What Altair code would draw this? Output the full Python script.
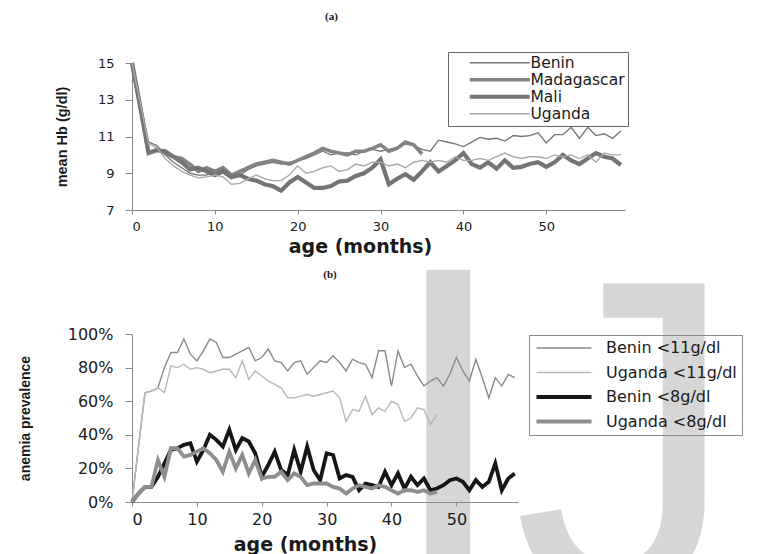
import altair as alt
import pandas as pd

# ---------------- data ----------------
months = list(range(60))

hb_names = ["Benin", "Madagascar", "Mali", "Uganda"]
hb_benin = [15.0, 12.8, 10.7, 10.5, 10.0, 9.6, 9.3, 9.0, 8.9, 8.9,
            9.2, 9.0, 8.7, 8.9, 9.2, 9.4, 9.5, 9.6, 9.5, 9.6,
            9.7, 9.8, 10.0, 10.2, 10.0, 10.1, 10.1, 10.0, 10.2, 10.3,
            10.2, 10.3, 10.4, 10.6, 10.5, 10.3, 10.2, 10.8, 10.7, 10.6,
            10.45, 10.7, 10.95, 10.85, 10.9, 10.75, 11.05, 11.0, 11.05, 11.2,
            10.65, 11.1, 11.1, 11.5, 10.9, 11.5, 11.05, 11.15, 10.9, 11.3]
hb_madagascar = [15.0, 12.6, 10.1, 10.3, 10.1, 9.9, 9.8, 9.5, 9.1, 9.3,
                 9.1, 9.3, 8.9, 9.1, 9.3, 9.5, 9.6, 9.7, 9.6, 9.5,
                 9.7, 9.9, 10.1, 10.35, 10.2, 10.1, 10.0, 10.2, 10.2, 10.35,
                 10.55, 10.2, 10.35, 10.7, 10.55, 10.05]
hb_mali = [15.0, 12.6, 10.1, 10.25, 10.2, 9.9, 9.6, 9.2, 9.3, 9.1,
           8.9, 9.1, 8.8, 8.9, 8.7, 8.6, 8.4, 8.3, 8.05, 8.5,
           8.8, 8.5, 8.2, 8.2, 8.3, 8.55, 8.6, 8.85, 9.0, 9.3,
           9.75, 8.4, 8.7, 8.95, 8.65, 9.1, 9.6, 9.1, 9.4, 9.7,
           10.1, 9.5, 9.3, 9.6, 9.25, 9.7, 9.3, 9.35, 9.5, 9.6,
           9.35, 9.6, 10.0, 9.7, 9.5, 9.8, 10.1, 9.9, 9.8, 9.45]
hb_uganda = [15.0, 12.8, 10.6, 10.4, 9.8, 9.4, 9.1, 8.9, 8.75, 8.8,
             8.9, 8.8, 8.4, 8.45, 8.7, 8.9, 8.7, 8.6, 8.6, 8.9,
             9.4, 9.0, 9.1, 9.3, 9.4, 9.1, 9.2, 9.5, 9.4, 9.6,
             9.6, 9.4, 9.5, 9.3, 9.6, 9.7, 9.6, 9.7, 9.6, 9.9,
             9.7, 9.7, 9.8, 9.7, 9.9, 10.1, 9.9, 9.8, 9.9, 9.9,
             9.8, 10.0, 9.9, 10.0, 9.8, 10.0, 9.6, 10.1, 10.0, 10.0]

prev_names = ["Benin <11g/dl", "Uganda <11g/dl", "Benin <8g/dl", "Uganda <8g/dl"]
prev_benin_11 = [0, 33, 65, 66, 68, 80, 89, 89, 97, 88,
                 84, 90, 97, 95, 86, 86, 88, 90, 92, 84,
                 86, 91, 84, 83, 78, 83, 84, 76, 80, 84,
                 83, 87, 83, 78, 85, 83, 82, 74, 90, 90,
                 69, 90, 80, 82, 75, 69, 72, 74, 69, 76,
                 86, 78, 72, 85, 74, 62, 74, 69, 76, 74]
prev_uganda_11 = [0, 33, 65, 66, 68, 65, 81, 80, 82, 79,
                  80, 79, 77, 78, 79, 79, 74, 84, 73, 78,
                  75, 72, 70, 68, 62, 62, 63, 64, 63, 64,
                  65, 66, 62, 48, 55, 54, 63, 52, 56, 54,
                  60, 58, 48, 50, 56, 55, 46, 52]
prev_benin_8 = [0, 5, 9, 9, 15, 23, 31, 32, 34, 35,
                24, 31, 40, 37, 33, 43, 31, 38, 36, 29,
                15, 22, 30, 19, 16, 31, 18, 33, 19, 13,
                29, 28, 14, 16, 15, 7, 11, 10, 9, 18,
                10, 17, 8, 15, 10, 14, 7, 8, 10, 13,
                14, 12, 7, 13, 9, 12, 23, 7, 14, 17]
prev_uganda_8 = [0, 5, 9, 9, 25, 15, 32, 32, 27, 28,
                 30, 32, 29, 25, 18, 30, 20, 28, 17, 25,
                 14, 15, 15, 18, 13, 17, 15, 10, 11, 11,
                 11, 9, 8, 5, 8, 10, 9, 8, 10, 9,
                 7, 5, 7, 7, 6, 7, 5, 6]

x_ticks = [0, 10, 20, 30, 40, 50]
hb_ticks = [7, 9, 11, 13, 15]
pct_ticks = [0, 20, 40, 60, 80, 100]
watermark_letters = ["I", "J"]


def long_table(names, series, value_col):
    rows = []
    for name, vals in zip(names, series):
        for m, v in zip(months, vals):
            rows.append({"age": m, value_col: v, "series": name})
    return pd.DataFrame(rows)


df_hb = long_table(hb_names, [hb_benin, hb_madagascar, hb_mali, hb_uganda], "hb")
df_prev = long_table(prev_names, [prev_benin_11, prev_uganda_11, prev_benin_8, prev_uganda_8], "pct")

# ---------------- styles ----------------
AX = "#8a8a8a"
TXT = "#1a1a1a"
WM = "#d6d6d6"

hb_colors = ["#777777", "#838383", "#747474", "#a9a9a9"]
hb_widths = [1.4, 3.6, 4.2, 1.4]
prev_colors = ["#8a8a8a", "#b8b8b8", "#161616", "#8e8e8e"]
prev_widths = [1.4, 1.4, 3.8, 3.8]

# ---------------- panel (a) ----------------
legend_a = alt.Legend(
    title=None, orient="none", legendX=316, legendY=-11,
    symbolType="M-6.67,0H6.67", symbolSize=81, symbolOffset=41,
    labelFont="DejaVu Sans", labelFontSize=15.5, labelColor=TXT,
    strokeColor="#666666", padding=3, rowPadding=-1.5, labelOffset=23,
)

wm_i = alt.Chart(pd.DataFrame({"t": watermark_letters[:1]})).mark_text(
    align="left", baseline="alphabetic", font="Liberation Sans", fontSize=470, color=WM,
).encode(x=alt.value(251), y=alt.value(530), text="t:N")
wm_j = alt.Chart(pd.DataFrame({"t": watermark_letters[1:]})).mark_text(
    align="left", baseline="alphabetic", font="Liberation Sans", fontSize=450, color=WM,
).encode(x=alt.value(381), y=alt.value(530), text="t:N")

lines_a = alt.Chart(df_hb).mark_line().encode(
    x=alt.X("age:Q", scale=alt.Scale(domain=[0, 59.5], nice=False),
            axis=alt.Axis(values=x_ticks, title="age (months)", grid=False,
                          domainColor=AX, tickColor=AX, tickSize=4,
                          labelFont="DejaVu Sans", labelFontSize=13, labelColor=TXT,
                          labelPadding=6, titleFont="DejaVu Sans", titleFontWeight="bold",
                          titleFontSize=19, titleColor=TXT, titlePadding=4,
                          titleX=228, titleAlign="center")),
    y=alt.Y("hb:Q", scale=alt.Scale(domain=[7, 15], nice=False),
            axis=alt.Axis(values=hb_ticks, title="mean Hb (g/dl)", grid=False,
                          domainColor=AX, tickColor=AX, tickSize=7,
                          labelFont="DejaVu Sans", labelFontSize=13, labelColor=TXT,
                          labelPadding=11, titleFont="Liberation Sans", titleFontWeight="bold",
                          titleFontSize=14.5, titleColor=TXT, titlePadding=28)),
    color=alt.Color("series:N", scale=alt.Scale(domain=hb_names, range=hb_colors), legend=legend_a),
    strokeWidth=alt.StrokeWidth("series:N",
                                scale=alt.Scale(type="ordinal", domain=hb_names, range=hb_widths),
                                legend=legend_a),
)

panel_a = alt.layer(wm_i, wm_j, lines_a).properties(
    width=493, height=147,
    title=alt.TitleParams("(a)", font="Liberation Serif", fontWeight="bold", fontSize=11,
                          color=TXT, anchor="middle", frame="group", dx=-47, offset=30),
)

# ---------------- panel (b) ----------------
legend_b = alt.Legend(
    title=None, orient="none", legendX=397, legendY=1,
    symbolType="M-5.5,0H5.5", symbolSize=100, symbolOffset=22,
    labelFont="DejaVu Sans", labelFontSize=16, labelColor=TXT,
    strokeColor="#8a8a8a", padding=5, rowPadding=8.5, labelOffset=34,
)

panel_b = alt.Chart(df_prev).mark_line().encode(
    x=alt.X("age:Q", scale=alt.Scale(domain=[0, 59.5], nice=False),
            axis=alt.Axis(values=x_ticks, title="age (months)", grid=False,
                          domainColor=AX, tickColor=AX, tickSize=4,
                          labelFont="DejaVu Sans", labelFontSize=16, labelColor=TXT,
                          labelPadding=5, titleFont="DejaVu Sans", titleFontWeight="bold",
                          titleFontSize=19, titleColor=TXT, titlePadding=8,
                          titleX=173, titleAlign="center")),
    y=alt.Y("pct:Q", scale=alt.Scale(domain=[0, 100], nice=False),
            axis=alt.Axis(values=pct_ticks, title="anemia prevalence", grid=False,
                          labelExpr="datum.value + '%'",
                          domainColor=AX, tickColor=AX, tickSize=7,
                          labelFont="DejaVu Sans", labelFontSize=16, labelColor=TXT,
                          labelPadding=12, titleFont="Liberation Sans", titleFontWeight="bold",
                          titleFontSize=14, titleColor=TXT, titlePadding=35)),
    color=alt.Color("series:N", scale=alt.Scale(domain=prev_names, range=prev_colors), legend=legend_b),
    strokeWidth=alt.StrokeWidth("series:N",
                                scale=alt.Scale(type="ordinal", domain=prev_names, range=prev_widths),
                                legend=legend_b),
).properties(
    width=386, height=168,
    title=alt.TitleParams("(b)", font="Liberation Serif", fontWeight="bold", fontSize=11,
                          color=TXT, anchor="middle", frame="group", dx=5, offset=46),
)

chart = alt.vconcat(panel_a, panel_b, spacing=124, bounds="flush").resolve_scale(
    color="independent", strokeWidth="independent"
).resolve_legend(
    color="independent", strokeWidth="independent"
).properties(
    background="#ffffff", padding={"left": 10, "top": 2, "right": 0, "bottom": 0},
).configure_view(stroke=None)

chart.save("out.html", embed_options={"renderer": "svg", "actions": False})
